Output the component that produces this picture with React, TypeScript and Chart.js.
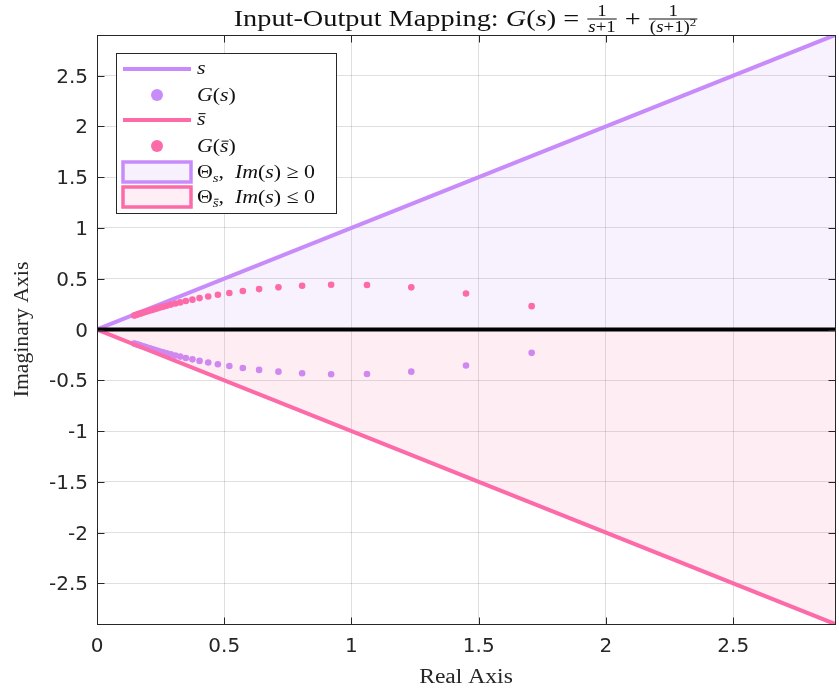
import React, { useEffect, useRef } from 'react';
import { Chart, registerables } from 'chart.js';
Chart.register(...registerables);

// ---------- data ----------
const xTicks = [0, 0.5, 1, 1.5, 2, 2.5];
const xTickLabels = ['0', '0.5', '1', '1.5', '2', '2.5'];
const yTicks = [-2.5, -2, -1.5, -1, -0.5, 0, 0.5, 1, 1.5, 2, 2.5];
const yTickLabels = ['-2.5', '-2', '-1.5', '-1', '-0.5', '0', '0.5', '1', '1.5', '2', '2.5'];
const xLimits = [0, 2.9];
const yLimits = [-2.9, 2.9];

// s ray (Im >= 0) and its conjugate
const sRe = [0, 3];
const sIm = [0, 3];
const sBarRe = [0, 3];
const sBarIm = [0, -3];
// real axis line
const axisRe = [0, 3];
const axisIm = [0, 0];

// G(s) points (lower half plane)
const gRe = [1.708, 1.450, 1.235, 1.061, 0.920, 0.806, 0.713, 0.637, 0.573, 0.520, 0.475, 0.437, 0.403, 0.375, 0.349, 0.327, 0.308, 0.290, 0.274, 0.260, 0.248, 0.236, 0.225, 0.216, 0.207, 0.199, 0.191, 0.184, 0.177, 0.171, 0.166, 0.160, 0.155, 0.150, 0.146];
const gIm = [-0.230, -0.354, -0.415, -0.438, -0.440, -0.431, -0.415, -0.398, -0.379, -0.360, -0.342, -0.325, -0.309, -0.294, -0.280, -0.267, -0.256, -0.245, -0.234, -0.225, -0.216, -0.208, -0.200, -0.193, -0.186, -0.180, -0.174, -0.169, -0.163, -0.158, -0.154, -0.149, -0.145, -0.141, -0.138];
// G(s-bar) points (upper half plane)
const gBarRe = [1.708, 1.450, 1.235, 1.061, 0.920, 0.806, 0.713, 0.637, 0.573, 0.520, 0.475, 0.437, 0.403, 0.375, 0.349, 0.327, 0.308, 0.290, 0.274, 0.260, 0.248, 0.236, 0.225, 0.216, 0.207, 0.199, 0.191, 0.184, 0.177, 0.171, 0.166, 0.160, 0.155, 0.150, 0.146];
const gBarIm = [0.230, 0.354, 0.415, 0.438, 0.440, 0.431, 0.415, 0.398, 0.379, 0.360, 0.342, 0.325, 0.309, 0.294, 0.280, 0.267, 0.256, 0.245, 0.234, 0.225, 0.216, 0.208, 0.200, 0.193, 0.186, 0.180, 0.174, 0.169, 0.163, 0.158, 0.154, 0.149, 0.145, 0.141, 0.138];

// ---------- styles ----------
const PURPLE = 'rgb(200,140,250)';
const PINK = 'rgb(252,106,168)';
const PURPLE_FILL = 'rgba(200,140,250,0.12)';
const PINK_FILL = 'rgba(252,106,168,0.12)';
const AX = '#262626';
const SERIF = '"Liberation Serif", "Times New Roman", serif';
const SX = 1.18;

type Run = { t: string; it?: boolean; size: number; dy?: number; over?: boolean };

function fnt(size: number, it?: boolean) {
  return `${it ? 'italic ' : ''}${size}px ${SERIF}`;
}
function runsWidth(ctx: CanvasRenderingContext2D, runs: Run[], sx: number) {
  let w = 0;
  for (const r of runs) {
    ctx.font = fnt(r.size, r.it);
    w += ctx.measureText(r.t).width * sx;
  }
  return w;
}
function drawRuns(ctx: CanvasRenderingContext2D, runs: Run[], x: number, y: number, sx: number) {
  let cx = x;
  for (const r of runs) {
    ctx.font = fnt(r.size, r.it);
    const w = ctx.measureText(r.t).width;
    const yy = y + (r.dy || 0);
    ctx.save();
    ctx.translate(cx, yy);
    ctx.scale(sx, 1);
    ctx.fillText(r.t, 0, 0);
    ctx.restore();
    if (r.over) {
      ctx.fillRect(cx + 1.5, yy - r.size * 0.6, w * sx - 1.5, Math.max(1, r.size * 0.055));
    }
    cx += w * sx;
  }
  return cx - x;
}

const pts = (xs: number[], ys: number[]) => xs.map((x, i) => ({ x, y: ys[i] }));

const overlay = {
  id: 'overlay',
  afterDraw(chart: any) {
    const ctx: CanvasRenderingContext2D = chart.ctx;
    const a = chart.chartArea;
    const xs = chart.scales.x;
    const ys = chart.scales.y;
    ctx.save();
    ctx.textAlign = 'left';
    ctx.textBaseline = 'alphabetic';

    // axes box
    ctx.strokeStyle = AX;
    ctx.lineWidth = 1;
    ctx.strokeRect(a.left + 0.5, a.top + 0.5, a.right - a.left, a.bottom - a.top);

    // inward ticks
    const TL = 7;
    ctx.beginPath();
    for (const v of xTicks) {
      const px = Math.round(xs.getPixelForValue(v)) + 0.5;
      ctx.moveTo(px, a.bottom + 0.5);
      ctx.lineTo(px, a.bottom + 0.5 - TL);
      ctx.moveTo(px, a.top + 0.5);
      ctx.lineTo(px, a.top + 0.5 + TL);
    }
    for (const v of yTicks) {
      const py = Math.round(ys.getPixelForValue(v)) + 0.5;
      ctx.moveTo(a.left + 0.5, py);
      ctx.lineTo(a.left + 0.5 + TL, py);
      ctx.moveTo(a.right + 0.5, py);
      ctx.lineTo(a.right + 0.5 - TL, py);
    }
    ctx.stroke();

    // tick labels
    ctx.fillStyle = AX;
    ctx.font = '20px "DejaVu Sans"';
    ctx.textAlign = 'center';
    xTicks.forEach((v, i) => {
      ctx.fillText(xTickLabels[i], xs.getPixelForValue(v), 652);
    });
    ctx.textAlign = 'right';
    yTicks.forEach((v, i) => {
      ctx.fillText(yTickLabels[i], 88, ys.getPixelForValue(v) + 7);
    });
    ctx.textAlign = 'left';

    // axis labels
    const cx = (a.left + a.right) / 2;
    const cy = (a.top + a.bottom) / 2;
    const xl: Run[] = [{ t: 'Real Axis', size: 20 }];
    drawRuns(ctx, xl, cx - runsWidth(ctx, xl, SX) / 2, 683, SX);
    const yl: Run[] = [{ t: 'Imaginary Axis', size: 20 }];
    ctx.save();
    ctx.translate(28, cy);
    ctx.rotate(-Math.PI / 2);
    drawRuns(ctx, yl, -runsWidth(ctx, yl, SX * 0.92) / 2, 0, SX * 0.92);
    ctx.restore();

    // title
    ctx.fillStyle = '#111';
    const TS = 24;
    const FS = 16;
    const B = 26;
    const left: Run[] = [
      { t: 'Input-Output Mapping: ', size: TS },
      { t: 'G', size: TS, it: true },
      { t: '(', size: TS },
      { t: 's', size: TS, it: true },
      { t: ') = ', size: TS },
    ];
    const num: Run[] = [{ t: '1', size: FS }];
    const den1: Run[] = [{ t: 's', size: FS, it: true }, { t: '+1', size: FS }];
    const mid: Run[] = [{ t: ' + ', size: TS }];
    const den2: Run[] = [{ t: '(', size: FS }, { t: 's', size: FS, it: true }, { t: '+1)', size: FS }, { t: '2', size: 11, dy: -6 }];
    const wl = runsWidth(ctx, left, SX);
    const wn = runsWidth(ctx, num, SX);
    const wd1 = runsWidth(ctx, den1, SX);
    const wm = runsWidth(ctx, mid, SX);
    const wd2 = runsWidth(ctx, den2, SX);
    const f1 = Math.max(wn, wd1) + 4;
    const f2 = Math.max(wn, wd2) + 4;
    const total = wl + f1 + wm + f2;
    let tx = cx - total / 2;
    drawRuns(ctx, left, tx, B, SX);
    tx += wl;
    const drawFrac = (x0: number, w: number, wd: number, den: Run[]) => {
      drawRuns(ctx, num, x0 + (w - wn) / 2, B - 10, SX);
      ctx.fillRect(x0 + 1, B - 7.5, w - 2, 1);
      drawRuns(ctx, den, x0 + (w - wd) / 2, B + 6, SX);
    };
    drawFrac(tx, f1, wd1, den1);
    tx += f1;
    drawRuns(ctx, mid, tx, B, SX);
    tx += wm;
    drawFrac(tx, f2, wd2, den2);

    // legend
    const L = { x: 116, y: 53, w: 220, h: 160 };
    ctx.fillStyle = '#fff';
    ctx.fillRect(L.x, L.y, L.w, L.h);
    ctx.strokeStyle = AX;
    ctx.lineWidth = 1;
    ctx.strokeRect(L.x + 0.5, L.y + 0.5, L.w, L.h);
    const rowsY = [69, 95, 120, 146, 172, 197];
    const sx0 = 123, sx1 = 191, tx0 = 197;
    const LS = 19;
    const LSX = 1.15;
    const sub = (over: boolean): Run => ({ t: 's', size: 13, it: true, dy: 4, over });
    const thetaRuns = (over: boolean, rel: string): Run[] => [
      { t: 'Θ', size: LS },
      sub(over),
      { t: ',  ', size: LS },
      { t: 'Im', size: LS, it: true },
      { t: '(', size: LS },
      { t: 's', size: LS, it: true },
      { t: ') ' + rel + ' 0', size: LS },
    ];
    const items: { kind: string; color: string; fill?: string; runs: Run[]; dy: number }[] = [
      { kind: 'line', color: PURPLE, runs: [{ t: 's', size: LS, it: true }], dy: 4.5 },
      { kind: 'dot', color: PURPLE, runs: [{ t: 'G', size: LS, it: true }, { t: '(', size: LS }, { t: 's', size: LS, it: true }, { t: ')', size: LS }], dy: 6 },
      { kind: 'line', color: PINK, runs: [{ t: 's', size: LS, it: true, over: true }], dy: 4.5 },
      { kind: 'dot', color: PINK, runs: [{ t: 'G', size: LS, it: true }, { t: '(', size: LS }, { t: 's', size: LS, it: true, over: true }, { t: ')', size: LS }], dy: 6 },
      { kind: 'rect', color: PURPLE, fill: 'rgb(247,241,254)', runs: thetaRuns(false, '≥'), dy: 5.5 },
      { kind: 'rect', color: PINK, fill: 'rgb(255,238,245)', runs: thetaRuns(true, '≤'), dy: 5.5 },
    ];
    items.forEach((it, i) => {
      const y = rowsY[i];
      if (it.kind === 'line') {
        ctx.strokeStyle = it.color;
        ctx.lineWidth = 4;
        ctx.beginPath();
        ctx.moveTo(sx0, y);
        ctx.lineTo(sx1, y);
        ctx.stroke();
      } else if (it.kind === 'dot') {
        ctx.fillStyle = it.color;
        ctx.beginPath();
        ctx.arc((sx0 + sx1) / 2, y, 6, 0, Math.PI * 2);
        ctx.fill();
      } else {
        ctx.fillStyle = it.fill as string;
        ctx.fillRect(sx0, y - 10, sx1 - sx0, 20);
        ctx.strokeStyle = it.color;
        ctx.lineWidth = 3.5;
        ctx.strokeRect(sx0, y - 10, sx1 - sx0, 20);
      }
      ctx.fillStyle = '#111';
      drawRuns(ctx, it.runs, tx0, y + it.dy, LSX);
    });

    ctx.restore();
  },
};

export default function App() {
  const ref = useRef<HTMLCanvasElement | null>(null);
  useEffect(() => {
    document.body.style.margin = '0';
    const canvas = ref.current;
    if (!canvas) return;
    const chart = new Chart(canvas, {
      type: 'line',
      data: {
        datasets: [
          { label: 'axis', data: pts(axisRe, axisIm), showLine: true, borderColor: '#000', borderWidth: 4, pointRadius: 0, fill: false, order: 0, clip: 0 } as any,
          { label: 'G(sbar)', data: pts(gBarRe, gBarIm), showLine: false, pointRadius: 3.3, pointBackgroundColor: PINK, pointBorderWidth: 0, backgroundColor: PINK, order: 1 } as any,
          { label: 'sbar', data: pts(sBarRe, sBarIm), showLine: true, borderColor: PINK, borderWidth: 4, pointRadius: 0, fill: 'origin', backgroundColor: PINK_FILL, order: 2, clip: 0 } as any,
          { label: 'G(s)', data: pts(gRe, gIm), showLine: false, pointRadius: 3.3, pointBackgroundColor: PURPLE, pointBorderWidth: 0, backgroundColor: PURPLE, order: 3 } as any,
          { label: 's', data: pts(sRe, sIm), showLine: true, borderColor: PURPLE, borderWidth: 4, pointRadius: 0, fill: 'origin', backgroundColor: PURPLE_FILL, order: 4, clip: 0 } as any,
        ],
      },
      options: {
        animation: false,
        responsive: false,
        devicePixelRatio: 1,
        events: [],
        layout: { padding: { top: 35, right: 1, left: 0, bottom: 0 } },
        plugins: { legend: { display: false }, title: { display: false }, tooltip: { enabled: false } },
        scales: {
          x: {
            type: 'linear',
            min: xLimits[0],
            max: xLimits[1],
            afterBuildTicks: (s: any) => { s.ticks = xTicks.map((v) => ({ value: v })); },
            afterFit: (s: any) => { s.height = 71; },
            ticks: { display: false },
            grid: { color: 'rgba(38,38,38,0.15)', drawTicks: false },
            border: { display: false },
          },
          y: {
            type: 'linear',
            min: yLimits[0],
            max: yLimits[1],
            afterBuildTicks: (s: any) => { s.ticks = yTicks.map((v) => ({ value: v })); },
            afterFit: (s: any) => { s.width = 97; },
            ticks: { display: false },
            grid: { color: 'rgba(38,38,38,0.15)', drawTicks: false },
            border: { display: false },
          },
        },
      } as any,
      plugins: [overlay],
    });
    return () => chart.destroy();
  }, []);
  return (
    <div style={{ width: 839, height: 695 }}>
      <canvas ref={ref} width={839} height={695} style={{ display: 'block' }} />
    </div>
  );
}
